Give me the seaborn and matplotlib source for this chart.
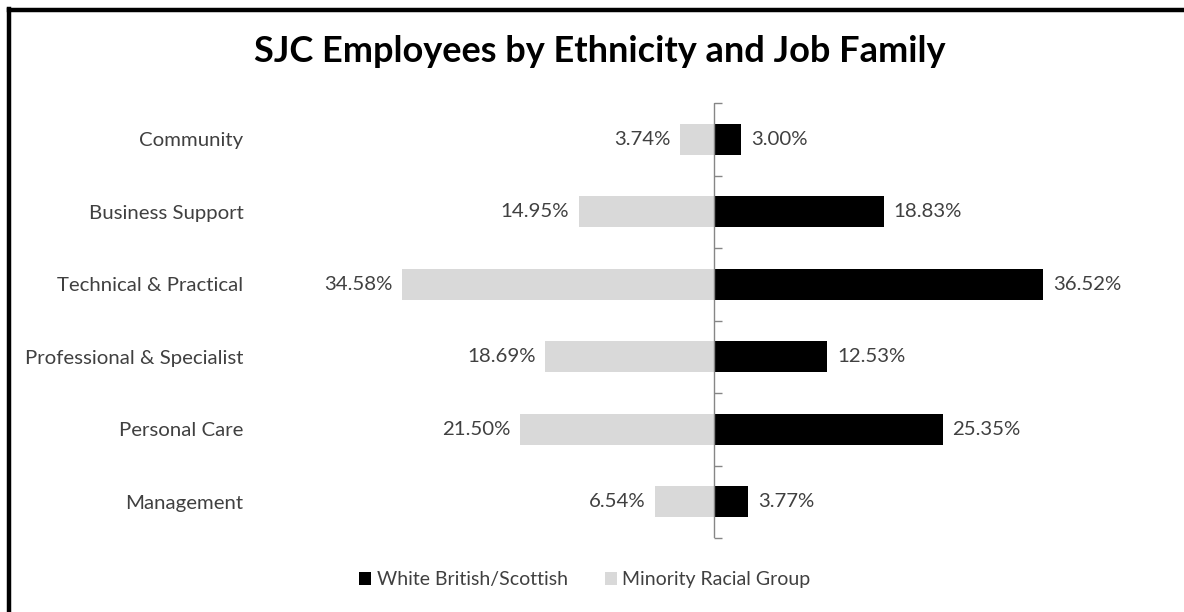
import matplotlib
matplotlib.use("Agg")
import matplotlib.pyplot as plt
import seaborn as sns
import pandas as pd
from matplotlib.lines import Line2D
from matplotlib.patches import Patch

categories = ["Community", "Business Support", "Technical & Practical",
              "Professional & Specialist", "Personal Care", "Management"]
white_british = [3.00, 18.83, 36.52, 12.53, 25.35, 3.77]
minority = [3.74, 14.95, 34.58, 18.69, 21.50, 6.54]
series_names = ["White British/Scottish", "Minority Racial Group"]
colors = {"White British/Scottish": "#000000", "Minority Racial Group": "#d9d9d9"}

rows = []
for c, w, m in zip(categories, white_british, minority):
    rows.append({"cat": c, "series": series_names[0], "val": w})
    rows.append({"cat": c, "series": series_names[1], "val": -m})
df = pd.DataFrame(rows)

sns.set_theme(style="white")
plt.rcParams["font.family"] = ["Lato", "DejaVu Sans"]

FS = 14.7
GRAY = "#868686"

fig = plt.figure(figsize=(11.84, 6.12), dpi=100)
ax = fig.add_axes([263/1184, 1 - 538/612, (1165 - 263)/1184, (538 - 103)/612])

sns.barplot(data=df, y="cat", x="val", hue="series", order=categories,
            hue_order=series_names, palette=colors, dodge=False, width=0.43,
            orient="h", ax=ax, legend=False, saturation=1, linewidth=0)

ax.set_xlim(-50, 50)
ax.set_ylim(len(categories) - 0.5, -0.5)
ax.set_xlabel("")
ax.set_ylabel("")
ax.set_xticks([])
for s in ax.spines.values():
    s.set_visible(False)
ax.tick_params(axis="y", length=0, pad=14, labelsize=FS, labelcolor="#404040")

# vertical category axis at zero with boundary tick marks
ax.axvline(0, color=GRAY, linewidth=1, zorder=5)
sec = ax.secondary_yaxis(0.5)
sec.set_yticks([i - 0.5 for i in range(len(categories) + 1)])
sec.set_yticklabels([])
sec.tick_params(axis="y", direction="out", length=6, color=GRAY, width=1)
for k in ["left", "right", "top", "bottom"]:
    sec.spines[k].set_visible(False)

for i, (w, m) in enumerate(zip(white_british, minority)):
    ax.text(w + 1.1, i, f"{w:.2f}%", va="center", ha="left", fontsize=FS, color="#404040")
    ax.text(-m - 1.1, i, f"{m:.2f}%", va="center", ha="right", fontsize=FS, color="#404040")

fig.text(600/1184, 1 - 52/612, "SJC Employees by Ethnicity and Job Family",
         ha="center", va="center", fontsize=26, fontweight="bold", color="#000000")

handles = [Patch(facecolor=colors[n], edgecolor="none") for n in series_names]
fig.legend(handles, series_names, loc="center", bbox_to_anchor=(585/1184, 1 - 580/612),
           ncol=2, frameon=False, fontsize=14, handlelength=0.6, handleheight=0.6,
           handletextpad=0.3, columnspacing=1.9, labelcolor="#404040")

# chart frame
fig.add_artist(Line2D([9/1184, 9/1184], [0, 1 - 9/612], transform=fig.transFigure,
                      color="black", linewidth=3.2, solid_capstyle="projecting"))
fig.add_artist(Line2D([9/1184, 1], [1 - 10/612, 1 - 10/612], transform=fig.transFigure,
                      color="black", linewidth=3.2, solid_capstyle="projecting"))

fig.savefig("out.png", dpi=100, facecolor="white")
